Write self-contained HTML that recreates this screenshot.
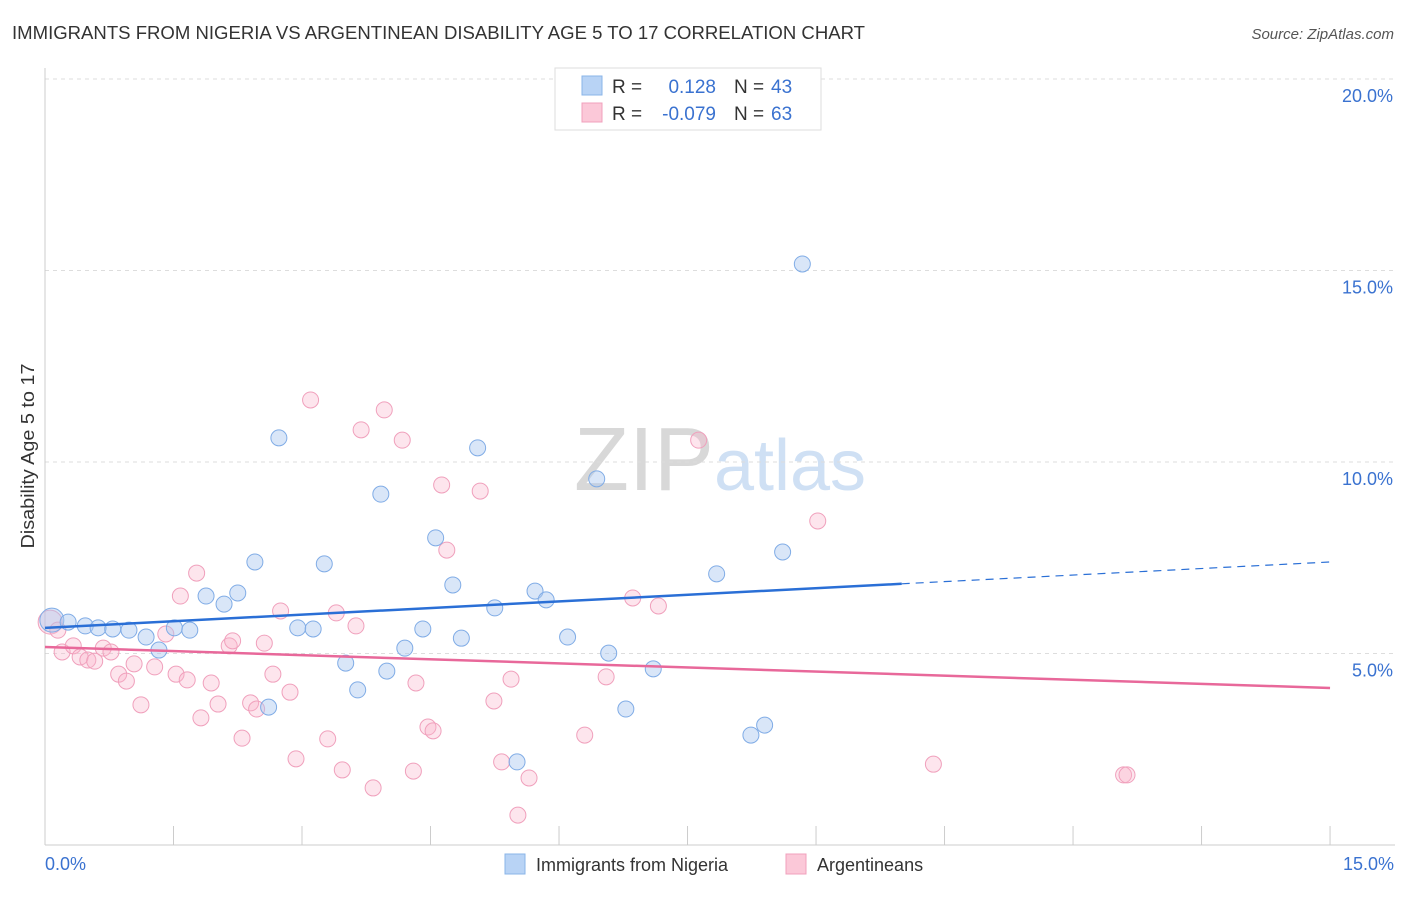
<!DOCTYPE html>
<html><head><meta charset="utf-8"><style>
body{margin:0;background:#fff;font-family:"Liberation Sans",sans-serif;}
svg text{font-family:"Liberation Sans",sans-serif;}
</style></head><body>
<svg id="chart" width="1406" height="892" xmlns="http://www.w3.org/2000/svg">
<text x="12" y="39" font-size="18.5" fill="#333" textLength="853" lengthAdjust="spacingAndGlyphs">IMMIGRANTS FROM NIGERIA VS ARGENTINEAN DISABILITY AGE 5 TO 17 CORRELATION CHART</text>
<text x="1394" y="39" font-size="15" fill="#555" text-anchor="end" font-style="italic">Source: ZipAtlas.com</text>
<text x="720" y="490" font-size="90" text-anchor="middle" fill="#ddd" font-family="Liberation Serif"><tspan fill="#d8d8d8">ZIP</tspan><tspan fill="#cfe0f4" font-family="Liberation Sans" font-size="72">atlas</tspan></text>
<g id="grid"></g>
<g id="axes"></g>
<g id="marks"></g>
<text transform="translate(34,456) rotate(-90)" font-size="18" fill="#333" text-anchor="middle" textLength="185" lengthAdjust="spacingAndGlyphs">Disability Age 5 to 17</text>
<g>
<rect x="555" y="68" width="266" height="62" fill="#fff" stroke="#ddd"/>
<rect x="582" y="76" width="20" height="19" fill="#b8d3f5" stroke="#8ab4e8"/>
<rect x="582" y="103" width="20" height="19" fill="#fbc8d8" stroke="#f0a0bc"/>
<text x="612" y="93" font-size="19" fill="#333">R = </text><text x="716" y="93" font-size="19" fill="#3a72d0" text-anchor="end">0.128</text>
<text x="734" y="93" font-size="19" fill="#333">N = </text><text x="771" y="93" font-size="19" fill="#3a72d0">43</text>
<text x="612" y="120" font-size="19" fill="#333">R = </text><text x="716" y="120" font-size="19" fill="#3a72d0" text-anchor="end">-0.079</text>
<text x="734" y="120" font-size="19" fill="#333">N = </text><text x="771" y="120" font-size="19" fill="#3a72d0">63</text>
</g>
<g>
<rect x="505" y="854" width="20" height="20" fill="#b8d3f5" stroke="#8ab4e8"/>
<text x="536" y="871" font-size="18" fill="#333">Immigrants from Nigeria</text>
<rect x="786" y="854" width="20" height="20" fill="#fbc8d8" stroke="#f0a0bc"/>
<text x="817" y="871" font-size="18" fill="#333">Argentineans</text>
</g>
</svg>
<script>
const yTicks=[5,10,15,20];
const yTickLabels=["5.0%","10.0%","15.0%","20.0%"];
const xLabels=["0.0%","15.0%"];
const blueX=[0.08,0.27,0.47,0.62,0.79,0.98,1.18,1.33,1.51,1.69,1.88,2.09,2.25,2.45,2.61,2.73,2.95,3.13,3.26,3.51,3.65,3.92,3.99,4.20,4.41,4.56,4.76,4.86,5.05,5.25,5.51,5.72,5.85,6.10,6.44,6.58,6.78,7.10,7.84,8.24,8.40,8.61,8.84];
const blueY=[5.87,5.82,5.72,5.67,5.64,5.61,5.43,5.09,5.67,5.61,6.50,6.29,6.58,7.39,3.60,10.63,5.67,5.64,7.34,4.75,4.05,9.16,4.54,5.14,5.64,8.02,6.79,5.40,10.37,6.19,2.17,6.63,6.40,5.43,9.56,5.01,3.55,4.60,7.08,2.87,3.13,7.65,15.17];
const pinkX=[0.06,0.15,0.20,0.33,0.41,0.50,0.58,0.68,0.77,0.86,0.95,1.04,1.12,1.28,1.41,1.53,1.58,1.66,1.77,1.82,1.94,2.02,2.15,2.19,2.30,2.40,2.47,2.56,2.66,2.75,2.86,2.93,3.10,3.30,3.40,3.47,3.63,3.69,3.83,3.96,4.17,4.30,4.33,4.47,4.53,4.63,4.69,5.08,5.24,5.33,5.44,5.65,5.52,6.30,6.55,6.86,7.16,7.63,9.02,10.37,12.59,12.63];
const pinkY=[5.82,5.61,5.04,5.20,4.91,4.83,4.80,5.14,5.04,4.46,4.28,4.73,3.66,4.65,5.51,4.46,6.50,4.31,7.10,3.32,4.23,3.68,5.20,5.33,2.79,3.71,3.55,5.27,4.46,6.11,3.99,2.25,11.62,2.77,6.06,1.96,5.72,10.84,1.49,11.36,10.57,1.93,4.23,3.08,2.98,9.40,7.70,9.24,3.76,2.17,4.33,1.75,0.78,2.87,4.39,6.45,6.24,10.57,8.46,2.11,1.83,1.83];
const blueTrend=[[0,5.67],[10.0,6.82],[15,7.39]];
const pinkTrend=[[0,5.17],[15,4.10]];
const NS="http://www.w3.org/2000/svg";
const sx=v=>45+v*85.67, sy=v=>845-v*38.3;
function mk(tag,attrs,parent){const e=document.createElementNS(NS,tag);for(const k in attrs)e.setAttribute(k,attrs[k]);parent.appendChild(e);return e;}
const grid=document.getElementById('grid'),axes=document.getElementById('axes'),marks=document.getElementById('marks');
yTicks.forEach((t,i)=>{
 const l=mk('line',{x1:45,x2:1395,y1:sy(t),y2:sy(t),stroke:'#ddd','stroke-dasharray':'4,4'},grid);
 
 
 const tx=mk('text',{x:1393,y:sy(t)+23,'font-size':18,fill:'#3a72d0','text-anchor':'end'},axes);
 tx.textContent=yTickLabels[i];
 
 
});
const ya=mk('line',{x1:45,x2:45,y1:68,y2:845,stroke:'#ccc'},axes);


const xa=mk('line',{x1:45,x2:1395,y1:845,y2:845,stroke:'#ccc'},axes);


for(let i=0;i<=10;i++){const v=i*1.5;const t=mk('line',{x1:sx(v),x2:sx(v),y1:826,y2:845,stroke:'#ccc'},axes);
 
 }
[[0,'start',45],[15,'end',1394]].forEach((a,i)=>{const t=mk('text',{x:a[2],y:870,'font-size':18,fill:'#3a72d0','text-anchor':a[1]},axes);t.textContent=xLabels[i];
 
 });
function dots(X,Y,fill,stroke,name){X.forEach((x,i)=>{const r=i===0?12:8;const c=mk('circle',{cx:sx(x),cy:sy(Y[i]),r:r,fill:fill,stroke:stroke,'stroke-width':1},marks);
 
 });}
dots(pinkX,pinkY,'rgba(248,180,202,0.35)','#f0a0bc','argentinean-point');
dots(blueX,blueY,'rgba(170,200,240,0.45)','#80ace6','nigeria-point');
const b1=mk('line',{x1:sx(blueTrend[0][0]),y1:sy(blueTrend[0][1]),x2:sx(blueTrend[1][0]),y2:sy(blueTrend[1][1]),stroke:'#2a6fd6','stroke-width':2.5},marks);


const b2=mk('line',{x1:sx(blueTrend[1][0]),y1:sy(blueTrend[1][1]),x2:sx(blueTrend[2][0]),y2:sy(blueTrend[2][1]),stroke:'#2a6fd6','stroke-width':1.2,'stroke-dasharray':'8,6'},marks);


const p1=mk('line',{x1:sx(pinkTrend[0][0]),y1:sy(pinkTrend[0][1]),x2:sx(pinkTrend[1][0]),y2:sy(pinkTrend[1][1]),stroke:'#e8689a','stroke-width':2.5},marks);


</script>
</body></html>
